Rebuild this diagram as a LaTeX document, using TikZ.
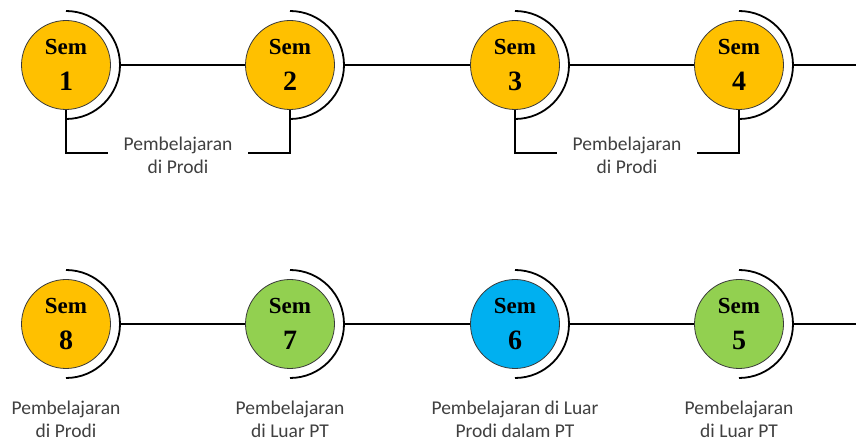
\documentclass[tikz,border=0pt]{standalone}
\usepackage{fontspec}
\setmainfont{Carlito}
\newfontfamily\semfont{Liberation Serif}
\usetikzlibrary{positioning}
\definecolor{SemYellow}{HTML}{FFC000}
\definecolor{SemGreen}{HTML}{92D050}
\definecolor{SemBlue}{HTML}{00B0F0}
\definecolor{NoteClr}{HTML}{404040}
\definecolor{RimClr}{HTML}{3A3A3A}

\tikzset{
  sem/.style={circle,draw=RimClr,line width=0.8pt,minimum size=89pt,inner sep=0pt,
    align=center,font=\semfont\bfseries\fontsize{23}{36}\selectfont},
  ring/.style={circle,minimum size=108pt,inner sep=0pt,outer sep=0pt},
  rim/.style={line width=1.8pt,black},
  link/.style={line width=1.5pt,black},
  note/.style={align=center,text=NoteClr,inner sep=0pt,
    font=\fontsize{19.5}{23}\selectfont},
}
\newcommand{\semno}[1]{{\fontsize{28}{36}\selectfont #1}}

\begin{document}
\begin{tikzpicture}[x=1pt,y=1pt]
\useasboundingbox (0,0) rectangle (856,444);

\node[sem,fill=SemYellow] (s1) at (66,379) {Sem\\\semno{1}};
\node[sem,fill=SemYellow] (s2) at (290,379) {Sem\\\semno{2}};
\node[sem,fill=SemYellow] (s3) at (515,379) {Sem\\\semno{3}};
\node[sem,fill=SemYellow] (s4) at (739,379) {Sem\\\semno{4}};

\node[sem,fill=SemYellow] (s8) at (66,120) {Sem\\\semno{8}};
\node[sem,fill=SemGreen] (s7) at (290,120) {Sem\\\semno{7}};
\node[sem,fill=SemBlue] (s6) at (515,120) {Sem\\\semno{6}};
\node[sem,fill=SemGreen] (s5) at (739,120) {Sem\\\semno{5}};

\foreach \n in {1,...,8}
  \node[ring] (a\n) at (s\n) {};
\foreach \n in {1,...,8}
  \draw[rim] (a\n.north) arc[start angle=90,end angle=-90,radius=54pt];

\coordinate (e1) at (856,379);
\coordinate (e2) at (856,120);

\draw[link] (a1.east) -- (s2.west);
\draw[link] (a2.east) -- (s3.west);
\draw[link] (a3.east) -- (s4.west);
\draw[link] (a4.east) -- (e1);

\draw[link] (a8.east) -- (s7.west);
\draw[link] (a7.east) -- (s6.west);
\draw[link] (a6.east) -- (s5.west);
\draw[link] (a5.east) -- (e2);

\draw[link] (s1.south) -- ++(0,-43) -| node[note,pos=0.25,fill=white,inner xsep=16pt,yshift=-2pt] (p12) {Pembelajaran\\di Prodi} (s2.south);
\draw[link] (s3.south) -- ++(0,-43) -| node[note,pos=0.25,fill=white,inner xsep=16pt,yshift=-2pt] (p34) {Pembelajaran\\di Prodi} (s4.south);

\node[note,below=32pt of s8] (n8) {Pembelajaran\\di Prodi};
\node[note,below=32pt of s7] (n7) {Pembelajaran\\di Luar PT};
\node[note,below=32pt of s6] (n6) {Pembelajaran di Luar\\Prodi dalam PT};
\node[note,below=32pt of s5] (n5) {Pembelajaran\\di Luar PT};

\end{tikzpicture}
\end{document}
